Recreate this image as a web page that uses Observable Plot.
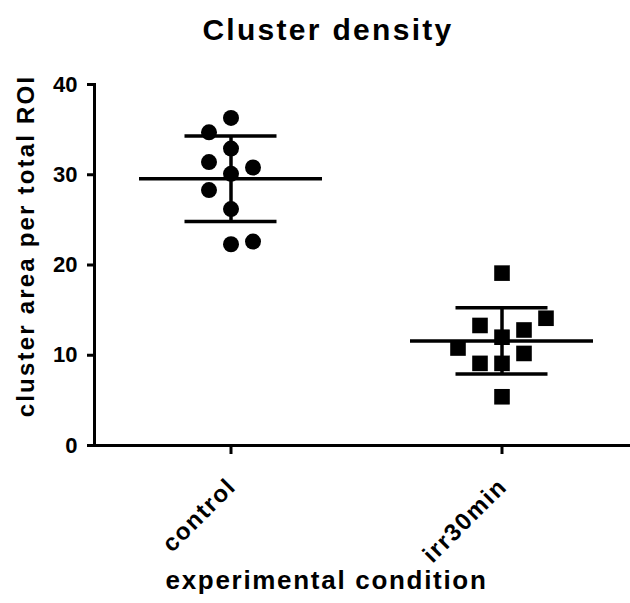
<!DOCTYPE html>
<html>
<head>
<meta charset="utf-8">
<script src="https://cdn.jsdelivr.net/npm/d3@7"></script>
<script src="https://cdn.jsdelivr.net/npm/@observablehq/plot@0.6"></script>
<style>
  html, body { margin: 0; padding: 0; background: #fff; }
  body { width: 630px; height: 603px; overflow: hidden; font-family: "Liberation Sans", Arial, sans-serif; }
  #title { height: 52px; line-height: 59px; font-size: 30px; font-weight: bold; text-align: center; padding-left: 26px; letter-spacing: 2.3px; color: #000; white-space: nowrap; }
  svg { overflow: visible; }
</style>
</head>
<body>
<div id="title">Cluster density</div>
<div id="chart"></div>
<script>
// Measurements per condition, in table order
const conditions = ["control", "irr30min"];
const controlValues = [36.3, 32.9, 30.1, 26.2, 22.3, 34.7, 30.8, 31.4, 22.6, 28.3];
const irrValues = [19.1, 12.0, 9.1, 5.4, 13.3, 12.8, 9.1, 10.2, 10.8, 14.1];
const yTicks = [0, 10, 20, 30, 40];
const yLabel = "cluster area per total ROI";
const xLabel = "experimental condition";

const width = 630, height = 551;
const marginTop = 32, marginBottom = 158, marginLeft = 94, marginRight = 0;
const pxPerUnit = (height - marginTop - marginBottom) / 40;
const columnStep = 22;          // horizontal spacing between side-by-side points (px)
const overlapPx = 21;           // points closer than this vertically are spread sideways

// Spread overlapping points into columns left/right of the centre, alternating sides
function spreadColumns(values, tol) {
  const placed = [];
  let side = -1;
  return values.map(v => {
    const clash = c => placed.some(p => p.col === c && Math.abs(p.v - v) < tol);
    let col = 0;
    if (clash(0)) {
      const s = side;
      side = -side;
      for (let k = 1; k < 10; k++) {
        if (!clash(s * k)) { col = s * k; break; }
        if (!clash(-s * k)) { col = -s * k; break; }
      }
    }
    placed.push({v, col});
    return col;
  });
}

const groups = [
  {condition: conditions[0], values: controlValues, symbol: "circle", r: 8},
  {condition: conditions[1], values: irrValues, symbol: "square", r: 8.8}
];

const points = groups.flatMap(g => {
  const cols = spreadColumns(g.values, overlapPx / pxPerUnit);
  return g.values.map((value, i) => ({condition: g.condition, value, col: cols[i]}));
});

const stats = groups.map(g => {
  const mean = d3.mean(g.values), sd = d3.deviation(g.values);
  return {condition: g.condition, mean, lo: mean - sd, hi: mean + sd};
});

const colIds = Array.from(new Set(points.map(p => p.col))).sort((a, b) => a - b);
const dotMarks = groups.flatMap(g => colIds.map(c => Plot.dot(
  points.filter(p => p.condition === g.condition && p.col === c),
  {x: "condition", y: "value", dx: c * columnStep, symbol: g.symbol, r: g.r, fill: "black", stroke: "none"}
)));

const chart = Plot.plot({
  width, height, marginTop, marginBottom, marginLeft, marginRight,
  style: {fontFamily: "'Liberation Sans', Arial, sans-serif", color: "black", background: "white"},
  x: {type: "band", domain: conditions, range: [138, 594], paddingInner: 0.3235, paddingOuter: 0, axis: null},
  y: {domain: [0, 40], axis: null},
  marks: [
    Plot.ruleY([0], {stroke: "black", strokeWidth: 3}),
    Plot.frame({anchor: "left", stroke: "black", strokeWidth: 3}),
    Plot.axisY({ticks: yTicks, tickSize: 7, tickPadding: 10, fontSize: 22, fontWeight: "bold", label: null, strokeWidth: 3}),
    Plot.axisX({tickSize: 9, tickFormat: () => "", label: null, strokeWidth: 3}),
    // mean line
    Plot.tickY(stats, {x: "condition", y: "mean", stroke: "black", strokeWidth: 3.5}),
    // standard deviation whisker and caps
    Plot.ruleX(stats, {x: "condition", y1: "lo", y2: "hi", stroke: "black", strokeWidth: 3.5}),
    Plot.tickY(stats, {x: "condition", y: "hi", insetLeft: 45.5, insetRight: 45.5, stroke: "black", strokeWidth: 3.5}),
    Plot.tickY(stats, {x: "condition", y: "lo", insetLeft: 45.5, insetRight: 45.5, stroke: "black", strokeWidth: 3.5}),
    ...dotMarks,
    // rotated category labels
    Plot.text(conditions, {x: d => d, frameAnchor: "bottom", rotate: -45, textAnchor: "end", lineAnchor: "middle",
      dx: 1, dy: 37, fontSize: 24, fontWeight: "bold", fill: "black"}),
    Plot.text([yLabel], {frameAnchor: "left", rotate: -90, textAnchor: "middle", lineAnchor: "middle",
      dx: -68, dy: -19, fontSize: 24, fontWeight: "bold", fill: "black"}),
    Plot.text([xLabel], {frameAnchor: "bottom", textAnchor: "middle", dx: -36, dy: 143, lineAnchor: "bottom",
      fontSize: 26, fontWeight: "bold", fill: "black"})
  ]
});

// Letter spacing for the label texts
const spacing = new Map([[yLabel, "2.2px"], [xLabel, "1.7px"], [conditions[0], "1.6px"], [conditions[1], "1.6px"]]);
d3.select(chart).selectAll("text").each(function() {
  const s = spacing.get(this.textContent);
  if (s) this.style.letterSpacing = s;
});
d3.select(chart).selectAll('g[aria-label="y-axis tick"], g[aria-label="x-axis tick"]').attr("stroke-width", 3);

document.getElementById("chart").appendChild(chart);
</script>
</body>
</html>
